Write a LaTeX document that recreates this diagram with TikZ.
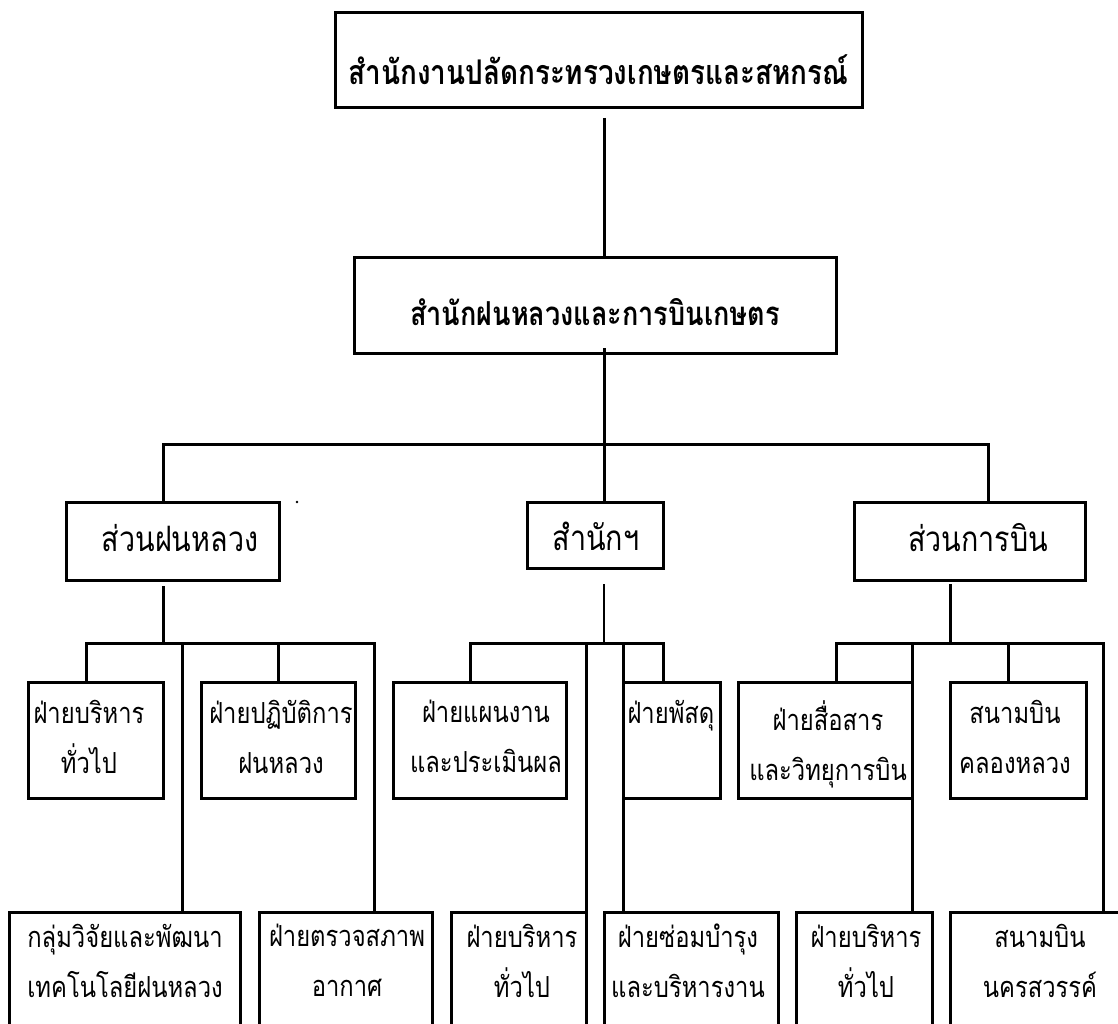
\documentclass[tikz,border=0pt]{standalone}
\usepackage{fontspec}
\newfontfamily\thaifont[Script=Thai,FakeStretch=0.82]{Loma}
\begin{document}
\begin{tikzpicture}[x=1pt,y=-1pt,
  box/.style={draw, line width=3pt, rectangle, inner sep=0pt, outer sep=0pt},
  conn/.style={line width=3pt},
  thinconn/.style={line width=1.7pt},
  tthree/.style={font=\thaifont\fontsize{29}{50}\selectfont, align=center, inner sep=0pt},
  ttwo/.style={font=\thaifont\fontsize{35}{38}\selectfont, inner sep=0pt},
  tone/.style={font=\thaifont\bfseries\fontsize{34}{38}\selectfont, inner sep=0pt},
  tonemid/.style={font=\thaifont\bfseries\fontsize{33}{38}\selectfont, inner sep=0pt}]
\fill[white] (0,0) rectangle (1118,1024);
\clip (0,0) rectangle (1118,1024);
% top levels
\node[box, minimum width=527pt, minimum height=95pt] (top) at (598.5,60.5) {};
\node[tone, anchor=base] (toptxt) at (598.5,85) {สำนักงานปลัดกระทรวงเกษตรและสหกรณ์};
\node[box, minimum width=482pt, minimum height=96pt] (mid) at (595,305) {};
\node[tonemid, anchor=base] (midtxt) at (595,325) {สำนักฝนหลวงและการบินเกษตร};
% level 2
\node[box, minimum width=213pt, minimum height=78pt] (sL) at (172.5,541) {};
\node[ttwo, anchor=base] (sLtxt) at (180,551) {ส่วนฝนหลวง};
\node[box, minimum width=136pt, minimum height=66pt] (sC) at (595,535) {};
\node[ttwo, anchor=base] (sCtxt) at (596,550) {สำนักฯ};
\node[box, minimum width=231pt, minimum height=78pt] (sR) at (969.5,541) {};
\node[ttwo, anchor=base] (sRtxt) at (978,551) {ส่วนการบิน};
% row A
\node[box, minimum width=135pt, minimum height=116pt] (a1) at (95.5,740) {};
\node[tthree, anchor=north] (a1t) at (89,700) {ฝ่ายบริหาร\\ทั่วไป};
\node[box, minimum width=154pt, minimum height=116pt] (a2) at (278,740) {};
\node[tthree, anchor=north] (a2t) at (281,700) {ฝ่ายปฏิบัติการ\\ฝนหลวง};
\node[box, minimum width=173pt, minimum height=116pt] (a3) at (479.5,740) {};
\node[tthree, anchor=north] (a3t) at (486,700) {ฝ่ายแผนงาน\\และประเมินผล};
\node[box, minimum width=97pt, minimum height=116pt] (a4) at (671.5,740) {};
\node[tthree, anchor=north] (a4t) at (671,700) {ฝ่ายพัสดุ};
\node[box, minimum width=174pt, minimum height=116pt] (a5) at (825,740) {};
\node[tthree, anchor=north] (a5t) at (828,700) {ฝ่ายสื่อสาร\\และวิทยุการบิน};
\node[box, minimum width=136pt, minimum height=116pt] (a6) at (1018,740) {};
\node[tthree, anchor=north] (a6t) at (1015,700) {สนามบิน\\คลองหลวง};
% row B
\node[box, minimum width=231pt, minimum height=200pt] (b1) at (124.5,1012) {};
\node[tthree, anchor=north] (b1t) at (125,924) {กลุ่มวิจัยและพัฒนา\\เทคโนโลยีฝนหลวง};
\node[box, minimum width=173pt, minimum height=200pt] (b2) at (345.5,1012) {};
\node[tthree, anchor=north] (b2t) at (347,924) {ฝ่ายตรวจสภาพ\\อากาศ};
\node[box, minimum width=135pt, minimum height=200pt] (b3) at (518.5,1012) {};
\node[tthree, anchor=north] (b3t) at (522,924) {ฝ่ายบริหาร\\ทั่วไป};
\node[box, minimum width=174pt, minimum height=200pt] (b4) at (691,1012) {};
\node[tthree, anchor=north] (b4t) at (688,924) {ฝ่ายซ่อมบำรุง\\และบริหารงาน};
\node[box, minimum width=136pt, minimum height=200pt] (b5) at (864,1012) {};
\node[tthree, anchor=north] (b5t) at (866,924) {ฝ่ายบริหาร\\ทั่วไป};
\node[box, minimum width=180pt, minimum height=200pt] (b6) at (1040,1012) {};
\node[tthree, anchor=north] (b6t) at (1040,924) {สนามบิน\\นครสวรรค์};
% coordinates
\coordinate (spine) at (604,444);
\coordinate (busL) at (163,444);
\coordinate (busR) at (988,444);
\coordinate (jL) at (163,643);
\coordinate (jC) at (604,643);
\coordinate (jR) at (950,643);
\coordinate (dL1) at (86,643);
\coordinate (dL2) at (182,643);
\coordinate (dL3) at (278,643);
\coordinate (dL4) at (374,643);
\coordinate (dC1) at (470,643);
\coordinate (dC2) at (586,643);
\coordinate (dC3) at (623,643);
\coordinate (dC4) at (663,643);
\coordinate (dR1) at (836,643);
\coordinate (dR2) at (912,643);
\coordinate (dR3) at (1008,643);
\coordinate (dR4) at (1103,643);
% connectors
\draw[conn, shorten <=10pt] (top.south -| spine) -- (mid.north -| spine);
\draw[conn, shorten <=-5pt] (mid.south -| spine) -- (sC.north -| spine);
\draw[conn] (sL.north -| busL) -- (busL) -- (busR) -- (sR.north -| busR);
\draw[conn, shorten <=6pt] (sL.south -| jL) -- (jL);
\draw[thinconn, shorten <=16pt] (sC.south -| jC) -- (jC);
\draw[conn, shorten <=4pt] (sR.south -| jR) -- (jR);
\draw[conn] (a1.north -| dL1) -- (dL1) -- (dL4) -- (b2.north -| dL4);
\draw[conn] (dL2) -- (b1.north -| dL2);
\draw[conn] (dL3) -- (a2.north -| dL3);
\draw[conn] (a3.north -| dC1) -- (dC1) -- (dC4) -- (a4.north -| dC4);
\draw[conn] (dC2) -- (b3.north -| dC2);
\draw[conn] (dC3) -- (b4.north -| dC3);
\draw[conn] (a5.north -| dR1) -- (dR1) -- (dR4) -- (b6.north -| dR4);
\draw[conn] (dR2) -- (b5.north -| dR2);
\draw[conn] (dR3) -- (a6.north -| dR3);
\fill (297,502) circle (1.3pt);
\end{tikzpicture}
\end{document}
